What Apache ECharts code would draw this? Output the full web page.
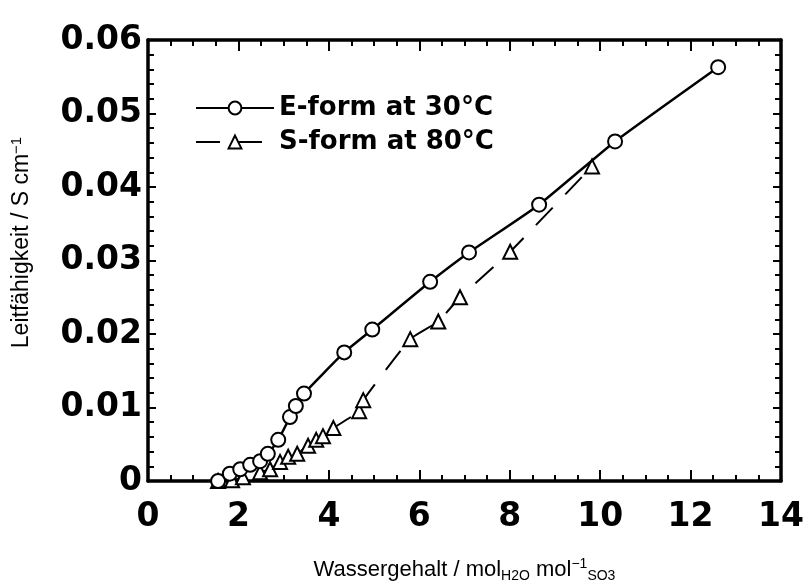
<!DOCTYPE html>
<html>
<head>
<meta charset="utf-8">
<script src="https://cdn.jsdelivr.net/npm/echarts@6/dist/echarts.min.js"></script>
<style>html,body{margin:0;padding:0;background:#fff;}#c{width:812px;height:588px;}</style>
</head>
<body>
<div id="c"></div>
<script>
// Data
var eFormX = [1.55, 1.81, 2.04, 2.26, 2.48, 2.65, 2.88, 3.14, 3.27, 3.45, 4.34, 4.96, 6.24, 7.10, 8.65, 10.33, 12.61];
var eFormY = [0.0000, 0.0010, 0.0016, 0.0022, 0.0027, 0.0037, 0.0056, 0.0087, 0.0102, 0.0119, 0.0175, 0.0206, 0.0271, 0.0311, 0.0376, 0.0462, 0.0563];
var sFormX = [1.55, 1.86, 2.10, 2.48, 2.70, 2.92, 3.10, 3.30, 3.54, 3.72, 3.87, 4.10, 4.67, 4.76, 5.80, 6.42, 6.90, 8.01, 9.82];
var sFormY = [0.0000, 0.0001, 0.0005, 0.0012, 0.0016, 0.0026, 0.0033, 0.0037, 0.0048, 0.0056, 0.0061, 0.0072, 0.0095, 0.0110, 0.0193, 0.0217, 0.0250, 0.0312, 0.0428];
var seriesNames = ['E-form at 30°C', 'S-form at 80°C'];
var xTicks = [0, 2, 4, 6, 8, 10, 12, 14];
var yTicks = [0, 0.01, 0.02, 0.03, 0.04, 0.05, 0.06];

function pairs(xs, ys) { return xs.map(function (x, i) { return [x, ys[i]]; }); }

var chart = echarts.init(document.getElementById('c'));
var axisLine = { show: true, onZero: false, lineStyle: { color: '#000', width: 3.5 } };
var labelFont = { fontFamily: 'DejaVu Sans', fontWeight: 'bold', fontSize: 33, color: '#000' };
function xAxisDef(pos, showLabels) {
  return {
    type: 'value', position: pos, min: xTicks[0], max: xTicks[xTicks.length - 1], interval: 2,
    axisLine: axisLine,
    axisTick: { show: true, inside: true, length: 11, lineStyle: { color: '#000', width: 2 } },
    minorTick: { show: true, splitNumber: 4, length: 6, lineStyle: { color: '#000', width: 2 } },
    splitLine: { show: false },
    axisLabel: Object.assign({ show: showLabels, margin: 20 }, labelFont)
  };
}
function yAxisDef(pos, showLabels) {
  return {
    type: 'value', position: pos, min: yTicks[0], max: yTicks[yTicks.length - 1], interval: 0.01,
    axisLine: axisLine,
    axisTick: { show: true, inside: true, length: 8, lineStyle: { color: '#000', width: 2 } },
    minorTick: { show: true, splitNumber: 5, length: 6, lineStyle: { color: '#000', width: 2 } },
    splitLine: { show: false },
    axisLabel: Object.assign({ show: showLabels, margin: 6, formatter: function (v) { return v === 0 ? '0' : v.toFixed(2); } }, labelFont)
  };
}

var xa = xAxisDef('bottom', true);
xa.name = 'Wassergehalt / mol{sub|H2O} mol{sup|−1}{sub|SO3}';
xa.nameLocation = 'middle';
xa.nameGap = 76;
xa.nameTextStyle = {
  fontFamily: 'Liberation Sans', fontSize: 22, color: '#000',
  rich: {
    sub: { fontFamily: 'Liberation Sans', fontSize: 14, color: '#000', verticalAlign: 'bottom', padding: [12, 0, 0, 0] },
    sup: { fontFamily: 'Liberation Sans', fontSize: 14, color: '#000', verticalAlign: 'top', padding: [0, 0, 10, 0] }
  }
};
var xTop = xAxisDef('top', false);
var ya = yAxisDef('left', true);
ya.name = 'Leitfähigkeit / S cm{sup|−1}';
ya.nameLocation = 'middle';
ya.nameGap = 114;
ya.nameTextStyle = {
  fontFamily: 'Liberation Sans', fontSize: 23, color: '#000', padding: [0, 0, 0, 36],
  rich: { sup: { fontFamily: 'Liberation Sans', fontSize: 15, color: '#000', verticalAlign: 'top', padding: [0, 0, 10, 0] } }
};
var yRight = yAxisDef('right', false);

chart.setOption({
  animation: false,
  backgroundColor: '#fff',
  grid: { left: 148, right: 31, top: 40, bottom: 106 },
  legend: {
    orient: 'vertical', left: 190, top: 90, itemGap: 8, itemWidth: 78, itemHeight: 16,
    textStyle: { fontFamily: 'DejaVu Sans', fontWeight: 'bold', fontSize: 26, color: '#000' },
    data: seriesNames
  },
  xAxis: [xa, xTop],
  yAxis: [ya, yRight],
  series: [
    {
      name: seriesNames[0], type: 'line', data: pairs(eFormX, eFormY), smooth: 0.15,
      symbol: 'circle', symbolSize: 14,
      lineStyle: { color: '#000', width: 2.5 },
      itemStyle: { color: '#fff', borderColor: '#000', borderWidth: 2 }, z: 3
    },
    {
      name: seriesNames[1], type: 'line', data: pairs(sFormX, sFormY), smooth: 0.15,
      symbol: 'triangle', symbolSize: 14,
      lineStyle: { color: '#000', width: 2, type: [24, 18] },
      itemStyle: { color: '#fff', borderColor: '#000', borderWidth: 2 }, z: 2
    }
  ]
});
</script>
</body>
</html>
